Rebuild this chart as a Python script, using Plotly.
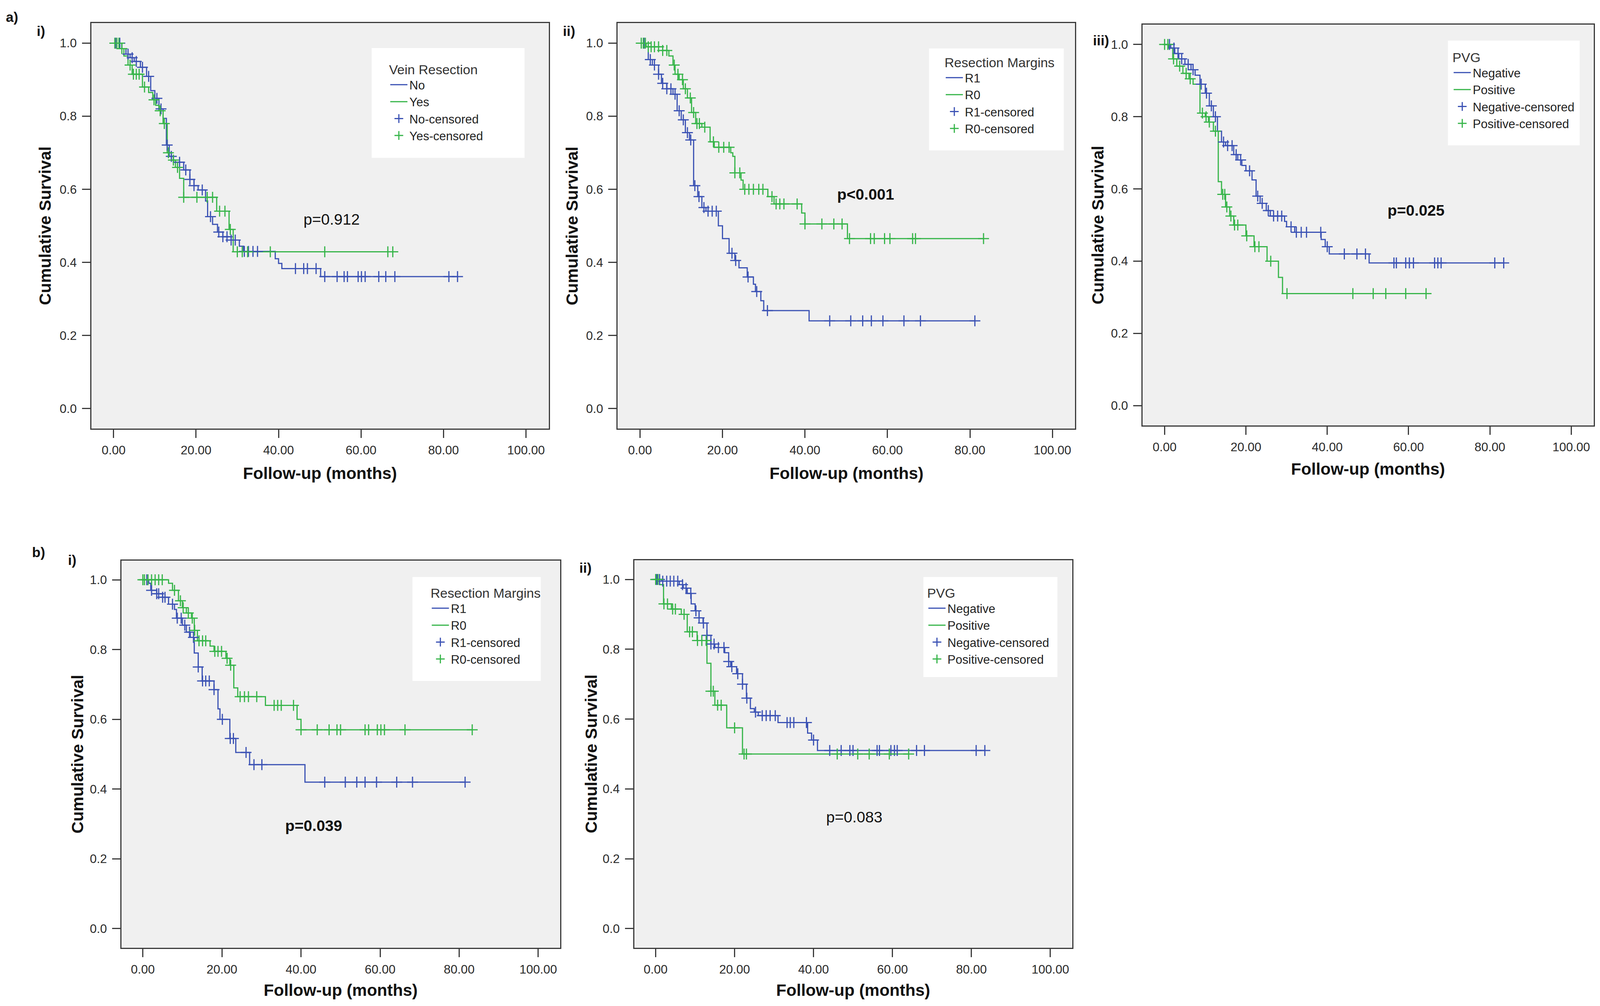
import plotly.graph_objects as go

# Reference picture size in pixels. The page fills the browser viewport; layout positions below
# are given in reference pixels and converted to fractions of the plotting div.
W, H = 4240, 2575
S = 1.035                    # observed device/CSS width ratio of the viewport
CSS_W = W / S
CSS_H = H
MARGIN = 8                   # default body margin in css px

BLUE = '#3b52b4'
GREEN = '#37b54a'
FONT = 'Liberation Sans, Arial, Helvetica, sans-serif'

# ---------------- data ----------------
x_ticks = [0, 20, 40, 60, 80, 100]
y_ticks = [0.0, 0.2, 0.4, 0.6, 0.8, 1.0]

# a) i) Vein Resection
ai_no_t = [0, 2, 3, 4, 5, 6.5, 8, 9, 10, 11, 12, 12.8, 13.5, 14.5, 17, 18.5, 19.5, 20.5, 22.3, 22.8,
           24, 25.2, 26.5, 28.5, 30.5, 31.5, 39.2, 40, 40.8, 50.2]
ai_no_s = [1.0, 0.985, 0.97, 0.96, 0.95, 0.934, 0.909, 0.87, 0.849, 0.82, 0.794, 0.721, 0.69, 0.674,
           0.653, 0.627, 0.61, 0.598, 0.568, 0.525, 0.504, 0.483, 0.47, 0.461, 0.444, 0.43, 0.41,
           0.397, 0.383, 0.361]
ai_no_end = 83.4
ai_no_c = [0.5, 1.5, 3.5, 4.5, 5.5, 7, 8.5, 10.5, 11.5, 13, 14, 16, 17.5, 18.5, 19.5, 21.5, 23.5,
           25.5, 26.5, 27.5, 28.5, 29.5, 31.7, 32.7, 33.8, 34.9, 44.1, 46.1, 47, 49.1, 51.2, 54.2,
           55.9, 56.7, 59.3, 60.1, 61, 64.3, 66, 68.2, 81.3, 83.4]
ai_yes_t = [0, 1.5, 2.5, 3.5, 4.5, 7, 8.5, 9.5, 10.2, 11, 12, 13, 14, 15, 16, 17, 25, 28, 29]
ai_yes_s = [1.0, 0.985, 0.965, 0.94, 0.915, 0.88, 0.865, 0.845, 0.83, 0.815, 0.78, 0.70, 0.68, 0.66,
            0.63, 0.578, 0.54, 0.49, 0.429]
ai_yes_end = 67.7
ai_yes_c = [0.3, 0.8, 1.3, 2, 4, 4.8, 5.5, 6.2, 7.5, 9.8, 11.3, 12.3, 13.3, 14.5, 15.5, 17, 20.2,
            22.7, 24, 25.7, 27, 28.3, 30, 31.2, 32.5, 38, 51.2, 66.5, 67.7]

# a) ii) Resection Margins
aii_r1_t = [0, 2, 3, 4.5, 5.2, 6.5, 8, 9, 10, 11, 12, 13, 14, 15, 16, 19, 20, 21.6, 23, 24, 26,
            27.5, 28, 29.3, 30, 41]
aii_r1_s = [1.0, 0.955, 0.94, 0.915, 0.89, 0.875, 0.86, 0.815, 0.79, 0.755, 0.735, 0.61, 0.58, 0.55,
            0.54, 0.50, 0.465, 0.425, 0.405, 0.385, 0.36, 0.34, 0.32, 0.295, 0.268, 0.24]
aii_r1_end = 81.2
aii_r1_c = [1, 2.5, 3.5, 4.5, 5.5, 6.5, 7.5, 8.5, 9.5, 10.5, 11.5, 12.3, 13.3, 14.3, 15.5, 16.5,
            17.5, 18.5, 22.3, 23.2, 26.2, 28.3, 30.9, 46, 51.1, 54, 56.1, 58.9, 64, 68, 81.2]
aii_r0_t = [0, 1.5, 5.5, 7, 8, 8.5, 9.5, 10.5, 11.5, 12.5, 13.5, 15, 17, 18, 22, 22.5, 23, 24.5, 25,
            31, 32.5, 39.2, 40, 50.3]
aii_r0_s = [1.0, 0.99, 0.98, 0.965, 0.94, 0.915, 0.90, 0.875, 0.85, 0.81, 0.78, 0.77, 0.73, 0.715,
            0.70, 0.69, 0.645, 0.625, 0.60, 0.58, 0.56, 0.535, 0.505, 0.465]
aii_r0_end = 83.3
aii_r0_c = [0.3, 0.8, 1.3, 2, 2.7, 3.5, 4.5, 5.5, 6.5, 8.3, 9.2, 10.3, 11, 12.2, 13, 13.8, 14.4,
            15.7, 17.8, 19.1, 20.3, 21.6, 23, 24.2, 25.4, 26.4, 27.5, 28.8, 29.8, 32, 33, 33.9, 34.9,
            38.1, 40, 44.1, 47, 49, 50.8, 55.9, 56.8, 59.3, 60.6, 66.1, 66.8, 83.3]

# a) iii) PVG
aiii_neg_t = [0, 1.5, 2.5, 3.5, 5, 6.5, 7.5, 8.7, 10, 11, 12, 13, 14, 15, 17, 18, 19, 20, 21.5, 22.5,
              23.5, 25, 26, 29.5, 30, 32, 38.5, 39.5, 40.5, 50.3]
aiii_neg_s = [1.0, 0.99, 0.975, 0.96, 0.945, 0.93, 0.915, 0.89, 0.865, 0.83, 0.80, 0.76, 0.73, 0.72,
              0.695, 0.68, 0.665, 0.65, 0.625, 0.58, 0.56, 0.54, 0.525, 0.51, 0.495, 0.48, 0.46,
              0.44, 0.42, 0.395]
aiii_neg_end = 83.4
aiii_neg_c = [1.2, 2.3, 3.3, 4.2, 5.8, 7, 9, 10.3, 11.5, 12.5, 14.5, 15.5, 16.6, 17.6, 18.7, 20.9,
              22.9, 24, 25.5, 26.8, 27.8, 28.8, 31.1, 32.4, 33.6, 34.9, 38.4, 40, 44.2, 47.3, 49.4,
              56.4, 57, 59.3, 60.2, 61.2, 66.4, 67.2, 68, 81.2, 83.4]
aiii_pos_t = [0, 1, 2, 3, 4.5, 6, 7, 8.7, 10, 10.8, 12, 13.2, 14, 15, 16, 17, 20, 22, 25.2, 28, 29]
aiii_pos_s = [1.0, 0.99, 0.96, 0.94, 0.92, 0.905, 0.89, 0.81, 0.80, 0.785, 0.76, 0.62, 0.585, 0.55,
              0.525, 0.50, 0.47, 0.44, 0.40, 0.355, 0.31]
aiii_pos_end = 64.3
aiii_pos_c = [0, 0.8, 2.2, 3.7, 5.3, 6.3, 9.3, 10.2, 11, 12.5, 14.3, 14.8, 15.3, 16.3, 17.2, 18,
              20.2, 22.2, 23.2, 26.1, 30.1, 46.3, 51.3, 54.4, 59.3, 64.3]

# b) i) Resection Margins
bi_r1_t = [0, 1.5, 2, 3.5, 5, 6.5, 8, 8.5, 10, 11, 12, 13, 14, 15, 18, 19, 19.5, 22, 23.5, 27, 41]
bi_r1_s = [1.0, 0.99, 0.97, 0.96, 0.95, 0.93, 0.915, 0.89, 0.87, 0.85, 0.835, 0.79, 0.75, 0.71,
           0.685, 0.63, 0.60, 0.545, 0.505, 0.47, 0.42]
bi_r1_end = 81.5
bi_r1_c = [1, 2.2, 3.5, 4, 5, 5.6, 7.5, 8.7, 9.7, 10.6, 11.8, 12.8, 14, 15.1, 15.9, 16.8, 18, 20.1,
           22.1, 22.9, 26.1, 28.1, 30.1, 46, 51.2, 54.1, 56.2, 59.1, 64.2, 68.2, 81.5]
bi_r0_t = [0, 6.5, 7.5, 9, 10, 11, 12.3, 13, 13.8, 17, 18, 21, 22, 23, 24, 31, 39, 40]
bi_r0_s = [1.0, 0.99, 0.97, 0.94, 0.92, 0.905, 0.89, 0.855, 0.825, 0.81, 0.795, 0.775, 0.755, 0.69,
           0.665, 0.64, 0.60, 0.57]
bi_r0_end = 83.3
bi_r0_c = [0, 0.4, 1.3, 2.2, 3.1, 4, 4.9, 8, 9.5, 10.2, 11.5, 12.5, 13.1, 14.2, 15.1, 15.9, 18.2,
           19, 19.9, 21.3, 22.2, 24.6, 25.7, 26.7, 28.8, 33.2, 34.1, 35, 38.1, 40, 44.1, 47.1, 49.1,
           50, 56.2, 57.1, 59.3, 60.2, 61.1, 66.3, 83.3]

# b) ii) PVG
bii_neg_t = [0, 1.5, 6, 7, 8, 9, 10, 11, 12, 13, 14, 15, 17.5, 18.5, 19, 20.5, 22, 23, 24, 25, 26,
             31, 38.5, 39.5, 41]
bii_neg_s = [1.0, 0.995, 0.985, 0.975, 0.96, 0.93, 0.91, 0.89, 0.875, 0.84, 0.815, 0.805, 0.79,
             0.765, 0.75, 0.73, 0.70, 0.66, 0.63, 0.62, 0.61, 0.59, 0.56, 0.54, 0.51]
bii_neg_end = 83.4
bii_neg_c = [0.3, 1, 1.8, 2.8, 3.7, 4.6, 5.6, 6.8, 7.7, 8.9, 10.2, 11, 12.1, 13, 14, 14.8, 15.9,
             17.3, 18.5, 19.3, 20.8, 22, 23.1, 25.3, 27, 28, 29, 30.3, 33.3, 34.1, 35, 38.2, 40,
             44.1, 47, 49.2, 50, 56.1, 56.7, 59.6, 60.5, 61.2, 66.1, 68.1, 81.2, 83.4]
bii_pos_t = [0, 1, 2, 4, 6.5, 8, 10.5, 13, 14, 15, 18, 22]
bii_pos_s = [1.0, 0.985, 0.93, 0.915, 0.90, 0.85, 0.825, 0.76, 0.68, 0.64, 0.575, 0.50]
bii_pos_end = 64.1
bii_pos_c = [0, 0.6, 2.1, 3, 4.3, 5, 7.2, 8.6, 9.3, 10.6, 11.7, 12.8, 14, 14.6, 15.7, 16.6, 20,
             22.4, 23, 46, 51.2, 54.1, 59.2, 64.1]

# ---------------- panel specs (layout, in reference pixels) ----------------
panels = [
    dict(label='i)', lab_xy=(109, 80), box=(242, 1454, 59, 1097),
         leg_title='Vein Resection', leg_box=(985, 1390, 123, 404), leg_xy=(1029, 146),
         names=('No', 'Yes'),
         s1=(ai_no_t, ai_no_s, ai_no_end, ai_no_c), s2=(ai_yes_t, ai_yes_s, ai_yes_end, ai_yes_c),
         p='p=0.912', p_bold=False, p_xy=(52.9, 0.518), xt_y=1211, yt_x=120),
    dict(label='ii)', lab_xy=(1508, 80), box=(1637, 2849, 59, 1097),
         leg_title='Resection Margins', leg_box=(2462, 2819, 124, 385), leg_xy=(2501, 128),
         names=('R1', 'R0'),
         s1=(aii_r1_t, aii_r1_s, aii_r1_end, aii_r1_c), s2=(aii_r0_t, aii_r0_s, aii_r0_end, aii_r0_c),
         p='p<0.001', p_bold=True, p_xy=(54.7, 0.587), xt_y=1211, yt_x=1517),
    dict(label='iii)', lab_xy=(2918, 104), box=(3028, 4223, 63, 1089),
         leg_title='PVG', leg_box=(3837, 4186, 104, 372), leg_xy=(3847, 115),
         names=('Negative', 'Positive'),
         s1=(aiii_neg_t, aiii_neg_s, aiii_neg_end, aiii_neg_c),
         s2=(aiii_pos_t, aiii_pos_s, aiii_pos_end, aiii_pos_c),
         p='p=0.025', p_bold=True, p_xy=(61.8, 0.541), xt_y=1200, yt_x=2910),
    dict(label='i)', lab_xy=(192, 1434), box=(322, 1484, 1435, 2426),
         leg_title='Resection Margins', leg_box=(1093, 1433, 1477, 1743), leg_xy=(1139, 1486),
         names=('R1', 'R0'),
         s1=(bi_r1_t, bi_r1_s, bi_r1_end, bi_r1_c), s2=(bi_r0_t, bi_r0_s, bi_r0_end, bi_r0_c),
         p='p=0.039', p_bold=True, p_xy=(43.2, 0.296), xt_y=2534, yt_x=205),
    dict(label='ii)', lab_xy=(1552, 1454), box=(1681, 2841, 1434, 2426),
         leg_title='PVG', leg_box=(2447, 2802, 1477, 1733), leg_xy=(2455, 1486),
         names=('Negative', 'Positive'),
         s1=(bii_neg_t, bii_neg_s, bii_neg_end, bii_neg_c),
         s2=(bii_pos_t, bii_pos_s, bii_pos_end, bii_pos_c),
         p='p=0.083', p_bold=False, p_xy=(50.3, 0.320), xt_y=2534, yt_x=1566),
]


def px_x(v):
    css = v / W * CSS_W
    return (css - MARGIN) / (CSS_W - 2 * MARGIN)


def px_y(v):
    css = v / H * CSS_H
    return 1 - (css - MARGIN) / (CSS_H - 2 * MARGIN)


def step_at(t, s, c):
    val = s[0]
    for ti, si in zip(t, s):
        if ti <= c:
            val = si
    return val


fig = go.Figure()
layout = dict(autosize=True, margin=dict(l=0, r=0, t=0, b=0, pad=0),
              paper_bgcolor='white', plot_bgcolor='#f0f0f0', showlegend=True,
              font=dict(family=FONT, color='#222'))
annotations = []
shapes = []

for k, P in enumerate(panels):
    i = k + 1
    xa = 'x' if i == 1 else f'x{i}'
    ya = 'y' if i == 1 else f'y{i}'
    leg = 'legend' if i == 1 else f'legend{i}'
    l, r, t, b = P['box']
    axis_common = dict(showgrid=False, zeroline=False, showline=True, mirror=True,
                       linecolor='#3a3a3a', linewidth=3, ticks='outside', ticklen=21,
                       tickwidth=3, tickcolor='#3a3a3a',
                       tickfont=dict(family=FONT, size=31.5, color='#2a2a2a'))
    layout['xaxis' if i == 1 else f'xaxis{i}'] = dict(
        axis_common, domain=[px_x(l), px_x(r)], range=[-5.4, 105.5], anchor=ya,
        tickvals=x_ticks, tickformat='.2f', ticklabelstandoff=4)
    layout['yaxis' if i == 1 else f'yaxis{i}'] = dict(
        axis_common, domain=[px_y(b), px_y(t)], range=[-0.055, 1.055], anchor=xa,
        tickvals=y_ticks, tickformat='.1f', ticklabelstandoff=7)

    for (tt, ss, end, cc), name, col in ((P['s1'], P['names'][0], BLUE),
                                         (P['s2'], P['names'][1], GREEN)):
        fig.add_trace(go.Scatter(x=list(tt) + [end], y=list(ss) + [ss[-1]], mode='lines',
                                 line=dict(color=col, width=3, shape='hv'), name=name,
                                 xaxis=xa, yaxis=ya, legend=leg))
    for (tt, ss, end, cc), name, col in ((P['s1'], P['names'][0], BLUE),
                                         (P['s2'], P['names'][1], GREEN)):
        fig.add_trace(go.Scatter(x=cc, y=[step_at(tt, ss, c) for c in cc], mode='markers',
                                 marker=dict(symbol='cross-thin', size=20,
                                             line=dict(color=col, width=3), color=col),
                                 name=name + '-censored', xaxis=xa, yaxis=ya, legend=leg))

    lx0, lx1, ly0, ly1 = P['leg_box']
    shapes.append(dict(type='rect', xref='paper', yref='paper', x0=px_x(lx0), x1=px_x(lx1),
                       y0=px_y(ly1), y1=px_y(ly0), fillcolor='white', line=dict(width=0),
                       layer='below'))
    layout[leg] = dict(x=px_x(P['leg_xy'][0]), y=px_y(P['leg_xy'][1]), xanchor='left',
                       yanchor='top', bgcolor='rgba(0,0,0,0)', borderwidth=0,
                       itemwidth=44, tracegroupgap=0,
                       font=dict(family=FONT, size=31, color='#222'),
                       title=dict(text=P['leg_title'], side='top',
                                  font=dict(family=FONT, size=34, color='#333')))

    ptxt = f"<b>{P['p']}</b>" if P['p_bold'] else P['p']
    annotations.append(dict(text=ptxt, x=P['p_xy'][0], y=P['p_xy'][1], xref=xa, yref=ya,
                            showarrow=False, xanchor='center', yanchor='middle',
                            font=dict(family=FONT, size=39.5, color='#111')))
    annotations.append(dict(text='<b>Follow-up (months)</b>', x=px_x((l + r) / 2),
                            y=px_y(P['xt_y']), xref='paper', yref='paper', showarrow=False,
                            xanchor='center', yanchor='middle',
                            font=dict(family=FONT, size=42.5, color='#111')))
    annotations.append(dict(text='<b>Cumulative Survival</b>', x=px_x(P['yt_x']),
                            y=px_y((t + b) / 2), xref='paper', yref='paper', showarrow=False,
                            textangle=-90, xanchor='center', yanchor='middle',
                            font=dict(family=FONT, size=42.5, color='#111')))
    annotations.append(dict(text=f"<b>{P['label']}</b>", x=px_x(P['lab_xy'][0]),
                            y=px_y(P['lab_xy'][1]), xref='paper', yref='paper', showarrow=False,
                            xanchor='center', yanchor='middle',
                            font=dict(family=FONT, size=35.5, color='#111')))

for txt, xy in (('a)', (32, 44)), ('b)', (102, 1414))):
    annotations.append(dict(text=f'<b>{txt}</b>', x=px_x(xy[0]), y=px_y(xy[1]), xref='paper',
                            yref='paper', showarrow=False, xanchor='center', yanchor='middle',
                            font=dict(family=FONT, size=35.5, color='#111')))

layout['annotations'] = annotations
layout['shapes'] = shapes
fig.update_layout(**layout)
fig.write_html('out.html', config={'responsive': True},
               default_width='calc(100vw - 16px)', default_height='calc(100vh - 16px)')
